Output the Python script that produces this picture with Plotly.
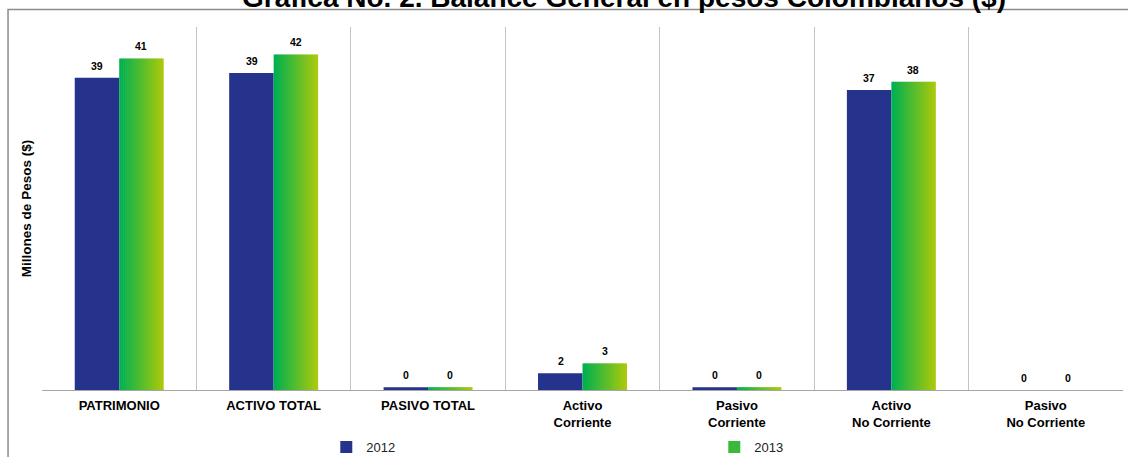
import plotly.graph_objects as go

categories = ["PATRIMONIO", "ACTIVO TOTAL", "PASIVO TOTAL", "Activo<br>Corriente",
              "Pasivo<br>Corriente", "Activo<br>No Corriente", "Pasivo<br>No Corriente"]
v2012 = [38.7, 39.3, 0.35, 2.07, 0.35, 37.2, 0.0]
v2013 = [41.1, 41.6, 0.35, 3.3, 0.35, 38.2, 0.0]
series_names = ["2012", "2013"]
title_text = "Gráfica No. 2. Balance General en pesos Colombianos ($)"
y_title = "Millones de Pesos ($)"

W = 0.288          # bar width in category units
BLUE = "#25338c"
G0 = (0, 176, 80)
G1 = (170, 201, 12)
NS = 22            # gradient slices for 2013 bars

fig = go.Figure()
fig.add_trace(go.Bar(x=categories, y=v2012, name=series_names[0], width=W, offset=-W,
                     marker=dict(color=BLUE, line=dict(width=0)), legendrank=1,
                     hoverinfo="y"))
sw = W / NS
for k in range(NS):
    t = k / (NS - 1)
    c = tuple(int(round(G0[i] + (G1[i] - G0[i]) * t)) for i in range(3))
    fig.add_trace(go.Bar(x=categories, y=v2013, name=series_names[1],
                         width=sw * 1.3 if k < NS - 1 else sw, offset=k * sw,
                         marker=dict(color="rgb(%d,%d,%d)" % c, line=dict(width=0)),
                         showlegend=(k == NS // 3), legendrank=2, hoverinfo="y"))

for vals, shift in ((v2012, -22), (v2013, 22)):
    for cat, v in zip(categories, vals):
        fig.add_annotation(x=cat, y=v, text="<b>%d</b>" % round(v), showarrow=False,
                           xshift=shift, yanchor="bottom", yshift=4,
                           font=dict(size=10.5, color="black"))

# title (partially cut off at top, as in the reference)
fig.add_annotation(xref="paper", yref="paper", x=(624 - 41.5) / 1081.8,
                   y=(390 + 3) / 363.0, yanchor="middle", xanchor="center",
                   text="<b>" + title_text + "</b>", showarrow=False,
                   font=dict(size=28, color="black"))

# outer chart border
fig.add_shape(type="rect", xref="paper", yref="paper",
              x0=(7.5 - 41.5) / 1081.8, x1=(1135 - 41.5) / 1081.8,
              y0=(390 - 480) / 363.0, y1=(390 - 9.5) / 363.0,
              line=dict(color="#8c8c8c", width=1.5), layer="below")

fig.update_layout(
    width=1128, height=457,
    margin=dict(l=41.5, r=4.7, t=27, b=67, autoexpand=False),
    barmode="overlay",
    plot_bgcolor="white", paper_bgcolor="white",
    font=dict(family="Liberation Sans, Arial, sans-serif", color="black"),
    showlegend=True,
    legend=dict(orientation="h", x=(326 - 41.5) / 1081.8, xanchor="left",
                y=(390 - 432) / 363.0, yanchor="top",
                entrywidth=343, entrywidthmode="pixels",
                font=dict(size=13, color="#222222"), bgcolor="rgba(0,0,0,0)"),
    xaxis=dict(type="category", tickson="boundaries", showgrid=True,
               gridcolor="#c4c4c4", gridwidth=1, showline=True, linecolor="#a6a6a6",
               ticks="", tickfont=dict(size=13, color="black"), ticklabelstandoff=3,
               tickprefix="<b>", ticksuffix="</b>", range=[-0.5, 6.5]),
    yaxis=dict(range=[0, 45], showgrid=False, showticklabels=False, ticks="",
               zeroline=False, showline=False,
               title=dict(text="<b>" + y_title + "</b>", font=dict(size=13.5),
                          standoff=6)),
)
fig.write_html("out.html", config={"displayModeBar": False},
               post_script="document.body.style.margin='0';document.body.style.overflow='hidden';")
